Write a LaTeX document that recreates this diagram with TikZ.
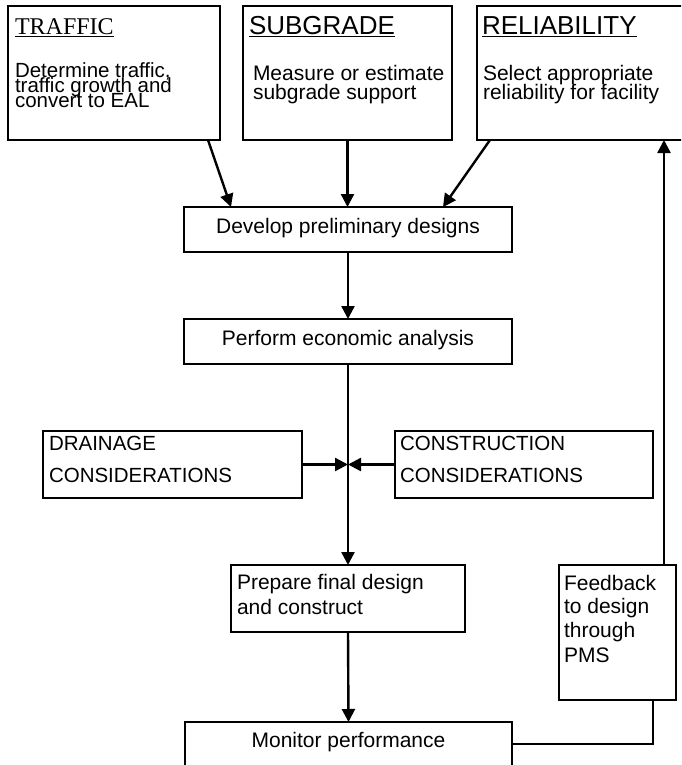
\documentclass[tikz,border=0pt]{standalone}
\usepackage{fontspec}
\setmainfont{Liberation Sans}
\newfontfamily\serifft{Liberation Serif}
\usetikzlibrary{arrows.meta}
\begin{document}
\begin{tikzpicture}[x=1pt,y=-1pt,
  box/.style={draw, line width=1.4pt, rectangle, inner sep=0pt, outer sep=0pt, anchor=north west},
  txt/.style={inner sep=0pt, outer sep=0pt, anchor=base west, font=\fontsize{21}{25}\selectfont},
  ctxt/.style={inner sep=0pt, outer sep=0pt, anchor=base, font=\fontsize{21}{25}\selectfont},
  smtxt/.style={inner sep=0pt, outer sep=0pt, anchor=base west, font=\fontsize{20.5}{25}\selectfont},
  ttl/.style={inner sep=0pt, outer sep=0pt, anchor=base west, font=\fontsize{26}{30}\selectfont},
  arr/.style={line width=2.4pt, -{Triangle[length=13pt,width=13pt]}},
  link/.style={line width=1.6pt}]
\useasboundingbox (0,0) rectangle (681,765);
\clip (0,0) rectangle (681,765);
\fill[white] (0,0) rectangle (681,765);

% boxes
\node[box, minimum width=212pt, minimum height=134pt] (traffic) at (8,6) {};
\node[box, minimum width=209pt, minimum height=134pt] (subgrade) at (243,6) {};
\node[box, minimum width=240pt, minimum height=134pt] (rel) at (477,6) {};
\node[box, minimum width=328pt, minimum height=45pt] (develop) at (184,207) {};
\node[box, minimum width=328pt, minimum height=45pt] (perform) at (184,319) {};
\node[box, minimum width=259pt, minimum height=67pt] (drain) at (43,431) {};
\node[box, minimum width=258pt, minimum height=67pt] (constr) at (395,431) {};
\node[box, minimum width=234pt, minimum height=67pt] (prepare) at (231,565) {};
\node[box, minimum width=117pt, minimum height=135pt] (fb) at (559,565) {};
\node[box, minimum width=327pt, minimum height=70pt] (mon) at (185,722) {};

% texts
\node[inner sep=0pt, outer sep=0pt, anchor=base west, font=\serifft\fontsize{24}{28}\selectfont] (ttraffic) at (15,35) {\underline{TRAFFIC}};
\node[txt, font=\fontsize{20.5}{25}\selectfont] (tr1) at (15,78) {Determine traffic,};
\node[txt, font=\fontsize{20.5}{25}\selectfont] (tr2) at (15,92.5) {traffic growth and};
\node[txt, font=\fontsize{20.5}{25}\selectfont] (tr3) at (15,107) {convert to EAL};

\node[ttl] (tsub) at (249,35) {\underline{SUBGRADE}};
\node[txt] (sb1) at (253,81) {Measure or estimate};
\node[txt] (sb2) at (253,100) {subgrade support};

\node[ttl] (trel) at (482,35) {\underline{RELIABILITY}};
\node[txt] (rl1) at (483,81) {Select appropriate};
\node[txt] (rl2) at (483,100) {reliability for facility};

\node[ctxt] (tdev) at (348,233) {Develop preliminary designs};
\node[ctxt] (tper) at (348,345) {Perform economic analysis};

\node[smtxt] (dr1) at (49,450) {DRAINAGE};
\node[smtxt] (dr2) at (49,482) {CONSIDERATIONS};
\node[smtxt] (co1) at (400,450) {CONSTRUCTION};
\node[smtxt] (co2) at (400,482) {CONSIDERATIONS};

\node[txt] (pr1) at (237,589) {Prepare final design};
\node[txt] (pr2) at (237,614) {and construct};

\node[txt] (fb1) at (564,590) {Feedback};
\node[txt] (fb2) at (564,613) {to design};
\node[txt] (fb3) at (564,637) {through};
\node[txt] (fb4) at (564,662) {PMS};

\node[ctxt] (tmon) at (348.5,747) {Monitor performance};

% connectors
\draw[arr] ([xshift=-12pt]traffic.south east) -- ([xshift=47pt]develop.north west);
\draw[arr] (subgrade.south) -- (subgrade.south |- develop.north);
\draw[arr] ([xshift=13pt]rel.south west) -- ([xshift=-69pt]develop.north east);
\draw[arr] (develop.south) -- (perform.north);
\draw[arr] (perform.south) -- (prepare.north);
\coordinate (j) at (perform.south |- drain.east);
\draw[arr] (drain.east) -- (j);
\draw[arr] (constr.west) -- (j);
\draw[arr] (prepare.south) -- (mon.north);
\coordinate (fbbot) at ([xshift=-23pt]fb.south east);
\draw[link] ([yshift=-22pt]mon.north east) -| (fbbot);
\coordinate (fbtop) at ([xshift=-12pt]fb.north east);
\draw[arr] (fbtop) -- (fbtop |- rel.south);
\end{tikzpicture}
\end{document}
